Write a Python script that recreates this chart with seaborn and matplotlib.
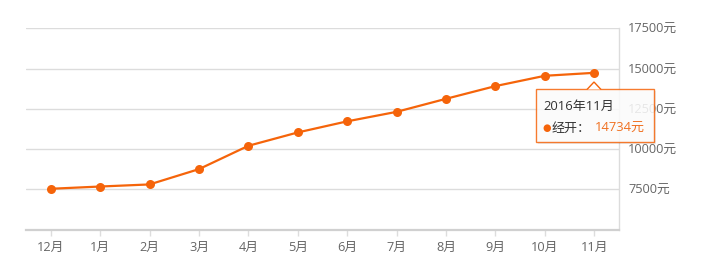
import matplotlib
matplotlib.use("Agg")
import matplotlib.pyplot as plt
import seaborn as sns
import pandas as pd
from matplotlib.patches import Rectangle, Polygon

months = ["12月", "1月", "2月", "3月", "4月", "5月", "6月", "7月", "8月", "9月", "10月", "11月"]
prices = [7530, 7670, 7800, 8750, 10200, 11030, 11720, 12310, 13120, 13910, 14550, 14734]
yticks = [7500, 10000, 12500, 15000, 17500]
ytick_labels = ["7500元", "10000元", "12500元", "15000元", "17500元"]
series_name = "经开"
tip_title = "2016年11月"

sns.set_theme(style="white")
plt.rcParams['font.family'] = ['Open Sans', 'Noto Sans CJK SC', 'DejaVu Sans']

W, H = 702, 279
fig = plt.figure(figsize=(W / 100, H / 100), dpi=100)
L, R, T, B = 26, 619, 28.3, 229.5
ax = fig.add_axes([L / W, (H - B) / H, (R - L) / W, (B - T) / H])

df = pd.DataFrame({"month": months, "price": prices})
df["x"] = range(len(months))
orange = "#f5640a"
sns.lineplot(data=df, x="x", y="price", ax=ax, color=orange, linewidth=1.6,
             marker="o", markersize=6.5, markeredgewidth=0, zorder=5)

ax.set_xlim(-0.5, len(months) - 0.5)
ax.set_ylim(5000, 17500)
ax.set_xticks(range(len(months)))
ax.set_xticklabels(months)
ax.set_yticks(yticks)
ax.set_yticklabels(ytick_labels)
ax.yaxis.tick_right()
ax.set_xlabel("")
ax.set_ylabel("")

for y in yticks:
    ax.axhline(y, color="#dcdcdc", linewidth=1, zorder=1)

for s in ["top", "left"]:
    ax.spines[s].set_visible(False)
ax.spines["right"].set_color("#dcdcdc")
ax.spines["right"].set_linewidth(1)
ax.spines["bottom"].set_color("#d0d0d0")
ax.spines["bottom"].set_linewidth(1.6)

ax.tick_params(axis="x", colors="#dddddd", length=4, width=1, direction="out",
               labelcolor="#666666", labelsize=9.2, pad=4, bottom=True)
ax.tick_params(axis="y", length=0, labelcolor="#666666", labelsize=9.2, pad=6.5, right=False)

def fy(y):
    return H - y

tl, tr, tt, tb = 536, 654, 89, 142
px = 594
shadow = Rectangle((tl + 2, fy(tb) - 2), tr - tl, tb - tt, transform=None,
                   facecolor="#000000", alpha=0.08, edgecolor="none", zorder=10)
fig.patches.append(shadow)
box = Rectangle((tl, fy(tb)), tr - tl, tb - tt, transform=None,
                facecolor="white", alpha=0.85, edgecolor=orange, linewidth=1, zorder=11)
fig.patches.append(box)
arrow = Polygon([(px - 7, fy(tt) - 0.5), (px, fy(tt - 7)), (px + 7, fy(tt) - 0.5)],
                closed=False, transform=None, facecolor="white", edgecolor=orange,
                linewidth=1, zorder=12)
fig.patches.append(arrow)

fig.text(543 / W, fy(106) / H, tip_title, color="#333333", fontsize=9.4, va="center", ha="left", zorder=13)
fig.text(542 / W, fy(128) / H, "●", color=orange, fontsize=7, va="center", ha="left", zorder=13,
         family=['DejaVu Sans'])
fig.text(552 / W, fy(128) / H, series_name + "：", color="#333333", fontsize=9.4, va="center", ha="left", zorder=13)
fig.text(595 / W, fy(128) / H, f"{prices[-1]}元", color="#f07020", fontsize=9.4, va="center", ha="left", zorder=13)

fig.savefig("out.png", dpi=100)
